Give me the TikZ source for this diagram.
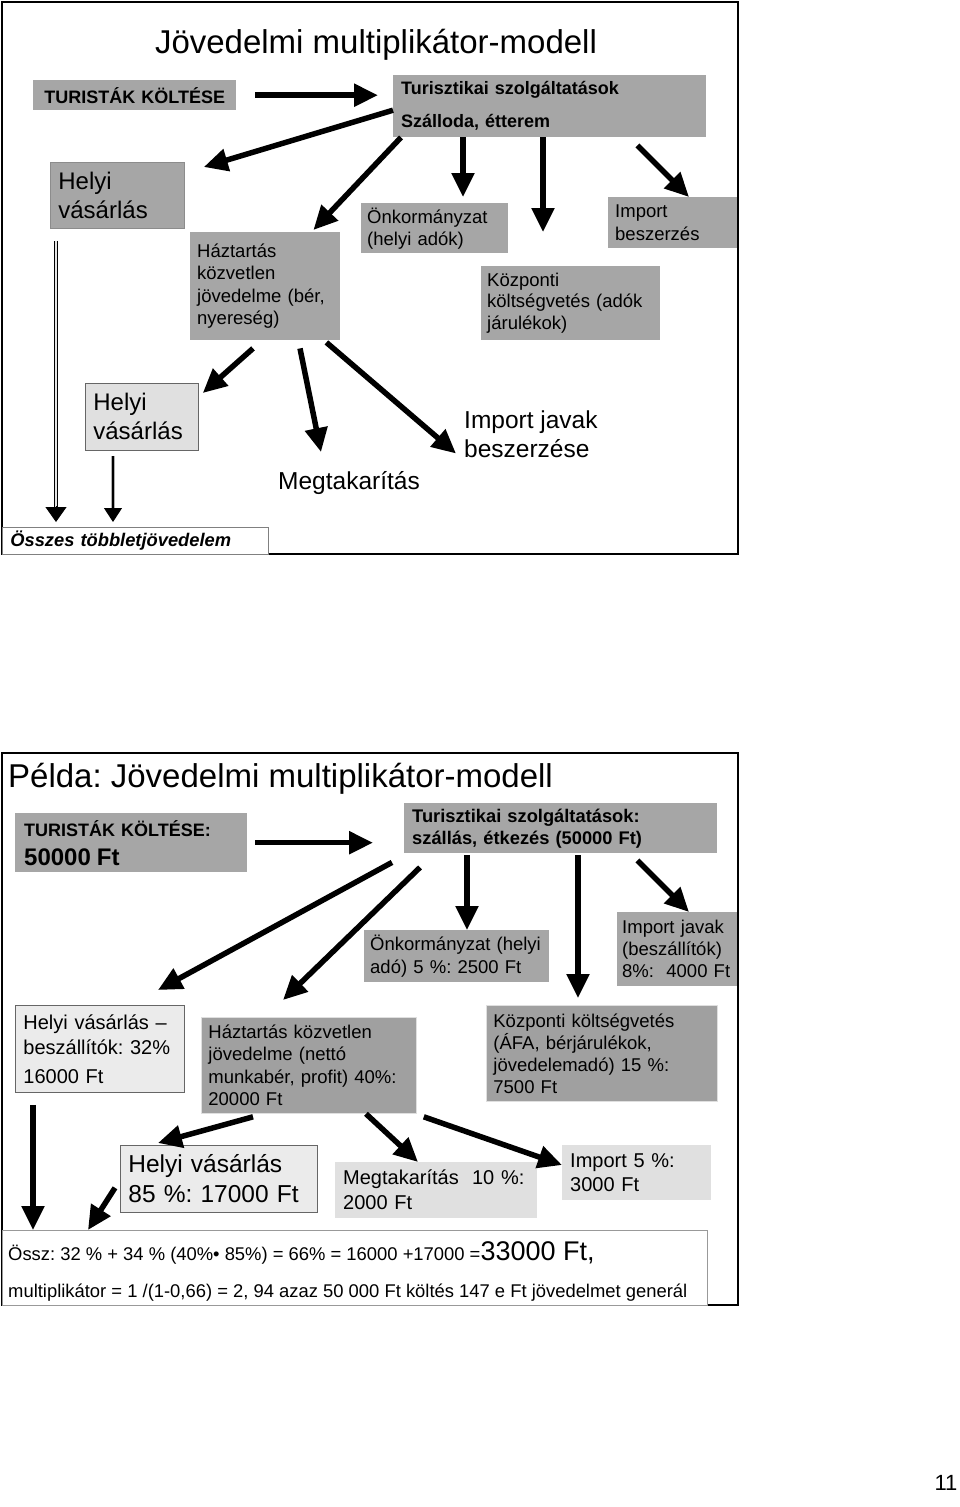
\documentclass[tikz,border=0pt]{standalone}
\usepackage{fontspec}
\setmainfont{Liberation Sans}
\usetikzlibrary{arrows.meta}
\definecolor{boxgray}{HTML}{A6A6A6}
\definecolor{boxdark}{HTML}{A0A0A0}
\definecolor{boxlight}{HTML}{E0E0E0}
\definecolor{boxpale}{HTML}{EBEBEB}
\newcommand{\fsz}[2]{\fontsize{#1}{#2}\selectfont}
\tikzset{
  bx/.style={rectangle, anchor=north west, align=left, inner xsep=7pt, inner ysep=0pt, font={\fsz{18.5}{22}}},
  gbox/.style={bx, fill=boxgray},
  dbox/.style={bx, fill=boxdark, draw=white!75!gray, line width=.8pt},
  lbox/.style={bx, fill=boxlight},
  pbox/.style={bx, fill=boxpale, draw=black!60, line width=.8pt},
  frame/.style={draw=black, line width=2pt},
  arr/.style={line width=5.5pt, -{Triangle[length=24pt,width=22pt]}},
  dblline/.style={line width=1.4pt, draw=black, double=gray!20, double distance=2pt},
  dbllineb/.style={line width=1pt, draw=gray!60, double=black, double distance=2.2pt},
  tipa/.style={line width=1pt, -{Triangle[length=15pt,width=21pt]}},
  tipb/.style={line width=1pt, -{Triangle[length=14pt,width=18pt]}}
}
\begin{document}
\frenchspacing
\begin{tikzpicture}[x=1pt,y=-1pt]
\useasboundingbox (0,0) rectangle (960,1507);

\draw[frame] (2,2) rectangle (738,554);
\node[font={\fsz{33}{36}}] (title1) at (376,45) {Jövedelmi multiplikátor-modell};
\node[gbox, minimum width=203pt, minimum height=30pt, text width=189pt, align=center, font={\bfseries\fsz{18}{22}}] (tk1) at (33,80) {TURISTÁK KÖLTÉSE};
\node[gbox, minimum width=313pt, minimum height=62pt, text width=297pt, inner xsep=8pt, font={\bfseries\fsz{18}{33}}] (tur1) at (393,75) {Turisztikai szolgáltatások\\Szálloda, étterem};
\node[gbox, draw=black!45, line width=.8pt, minimum width=134pt, minimum height=66pt, text width=118pt, inner xsep=8pt, font={\fsz{24}{29}}] (helyi1) at (50,162) {Helyi\\vásárlás};
\node[gbox, minimum width=150pt, minimum height=108pt, text width=136pt, font={\fsz{18.5}{22.3}}] (haz1) at (190,232) {Háztartás\\közvetlen\\jövedelme (bér,\\nyereség)};
\node[gbox, minimum width=147pt, minimum height=50pt, text width=135pt, inner xsep=6pt] (onk1) at (361,203) {Önkormányzat\\(helyi adók)};
\node[gbox, minimum width=179pt, minimum height=74pt, text width=167pt, inner xsep=6pt, font={\fsz{18.5}{21.5}}] (kozp1) at (481,266) {Központi\\költségvetés (adók\\járulékok)};
\node[gbox, minimum width=129pt, minimum height=51pt, text width=115pt, font={\fsz{18.5}{23}}] (imp1) at (608,197) {Import\\beszerzés};
\node[bx, fill=boxlight, draw=black!60, line width=.8pt, minimum width=113pt, minimum height=67pt, text width=97pt, inner xsep=8pt, font={\fsz{24}{29}}] (helyi2) at (85,383) {Helyi\\vásárlás};
\node[anchor=west, inner sep=0pt, font={\fsz{24.5}{29}}] (megt1) at (278,483) {Megtakarítás};
\node[anchor=west, inner sep=0pt, align=left, font={\fsz{24.5}{29}}] (impj1) at (464,434.5) {Import javak\\beszerzése};
\node[bx, fill=white, draw=black!50, line width=.8pt, minimum width=266pt, minimum height=27pt, text width=250pt, inner xsep=8pt, font={\bfseries\itshape\fsz{18.3}{22}}] (ossz) at (2,527) {Összes többletjövedelem};

\draw[arr, shorten <=19pt, shorten >=15pt] (tk1.east) -- (tk1.east -| tur1.west);
\draw[arr] ([yshift=-4pt]tur1.west) -- ([xshift=19pt,yshift=-5pt]helyi1.north east);
\draw[arr] ([xshift=8pt]tur1.south west) -- ([xshift=-27pt,yshift=2pt]haz1.north east);
\draw[arr] ([xshift=70pt]tur1.south west) -- ([xshift=102pt,yshift=6pt]onk1.north west);
\draw[arr] ([xshift=150pt]tur1.south west) -- ([xshift=62pt,yshift=34pt]kozp1.north west);
\draw[arr] ([xshift=-69pt,yshift=-8pt]tur1.south east) -- ([xshift=81pt]imp1.north west);
\draw[arr] ([xshift=63pt,yshift=-8pt]haz1.south west) -- ([xshift=4pt,yshift=-10pt]helyi2.north east);
\draw[arr] ([xshift=110pt,yshift=-8pt]haz1.south west) -- ([xshift=43pt,yshift=31pt]megt1.west);
\draw[arr] ([xshift=-14pt,yshift=-2pt]haz1.south east) -- ([xshift=-8pt,yshift=-19pt]impj1.west);
\draw[dblline] ([xshift=6pt,yshift=-12pt]helyi1.south west) -- ([xshift=54pt,yshift=18pt]ossz.north west);
\draw[tipa] ([xshift=54pt,yshift=21pt]ossz.north west) -- ([xshift=54pt,yshift=5pt]ossz.north west);
\draw[dbllineb] ([xshift=28pt,yshift=-5pt]helyi2.south west) -- ([xshift=111pt,yshift=17pt]ossz.north west);
\draw[tipb] ([xshift=111pt,yshift=20pt]ossz.north west) -- ([xshift=111pt,yshift=5pt]ossz.north west);

\draw[frame] (2,753) rectangle (738,1305);
\node[anchor=west, inner sep=0pt, font={\fsz{33}{36}}] (title2) at (8,779) {Példa: Jövedelmi multiplikátor-modell};
\node[gbox, minimum width=232pt, minimum height=59pt, text width=214pt, inner xsep=9pt, font={\bfseries\fsz{18}{29}}] (tk2) at (15,813) {TURISTÁK KÖLTÉSE:\\{\fsz{24}{29}50000 Ft}};
\node[gbox, minimum width=313pt, minimum height=50pt, text width=297pt, inner xsep=8pt, font={\bfseries\fsz{18.3}{22}}] (tur2) at (404,803) {Turisztikai szolgáltatások:\\szállás, étkezés (50000 Ft)};
\node[gbox, minimum width=185pt, minimum height=52pt, text width=173pt, inner xsep=6pt, font={\fsz{18.5}{23}}] (onk2) at (364,930) {Önkormányzat (helyi\\adó) 5 \%: 2500 Ft};
\node[gbox, minimum width=120pt, minimum height=74pt, text width=110pt, inner xsep=5pt] (impj2) at (617,912) {Import javak\\(beszállítók)\\8\%:\ \ 4000 Ft};
\node[pbox, minimum width=169pt, minimum height=87pt, text width=153pt, inner xsep=8pt, font={\fsz{20}{25}}] (helyi3) at (15,1005) {Helyi vásárlás –\\beszállítók: 32\%\\[4pt]16000 Ft};
\node[dbox, minimum width=215pt, minimum height=96pt, text width=201pt, font={\fsz{18.5}{22.3}}] (haz2) at (201,1017) {Háztartás közvetlen\\jövedelme (nettó\\munkabér, profit) 40\%:\\20000 Ft};
\node[dbox, minimum width=231pt, minimum height=96pt, text width=217pt] (kozp2) at (486,1005) {Központi költségvetés\\(ÁFA, bérjárulékok,\\jövedelemadó) 15 \%:\\7500 Ft};
\node[pbox, minimum width=197pt, minimum height=67pt, text width=181pt, inner xsep=8pt, font={\fsz{24.5}{30}}] (helyi4) at (120,1145) {Helyi vásárlás\\85 \%: 17000 Ft};
\node[lbox, minimum width=202pt, minimum height=56pt, text width=186pt, inner xsep=8pt, font={\fsz{20}{25}}] (megt2) at (335,1162) {Megtakarítás\ \ 10 \%:\\2000 Ft};
\node[lbox, minimum width=149pt, minimum height=55pt, text width=133pt, inner xsep=8pt, font={\fsz{20}{24}}] (imp2) at (562,1145) {Import 5 \%:\\3000 Ft};
\node[bx, fill=white, draw=black!40, line width=.8pt, minimum width=705pt, minimum height=75pt] (sumbox) at (2,1230) {};
\node[anchor=base west, inner sep=0pt, font={\fsz{18.4}{22}}] (sum1) at (8,1260) {Össz: 32 \% + 34 \% (40\%• 85\%) = 66\% = 16000 +17000 =\fsz{27}{30}33000 Ft,};
\node[anchor=base west, inner sep=0pt, font={\fsz{18.4}{22}}] (sum2) at (8,1297) {multiplikátor = 1 /(1-0,66) = 2, 94 azaz 50 000 Ft költés 147 e Ft jövedelmet generál};

\draw[arr, shorten <=8pt, shorten >=31pt] (tk2.east) -- (tk2.east -| tur2.west);
\draw[arr] ([xshift=-12pt,yshift=-9pt]tur2.south west) -- ([xshift=143pt,yshift=15pt]helyi3.north west);
\draw[arr] ([xshift=16pt,yshift=-14pt]tur2.south west) -- ([xshift=82pt,yshift=17pt]haz2.north west);
\draw[arr] ([xshift=63pt,yshift=-2pt]tur2.south west) -- ([xshift=103pt]onk2.north west);
\draw[arr] ([xshift=174pt,yshift=-2pt]tur2.south west) -- ([xshift=92pt,yshift=7pt]kozp2.north west);
\draw[arr] ([xshift=-80pt,yshift=-7pt]tur2.south east) -- ([xshift=72pt]impj2.north west);
\draw[arr] ([xshift=52pt,yshift=-3pt]haz2.south west) -- ([xshift=38pt,yshift=2pt]helyi4.north west);
\draw[arr] ([xshift=165pt]haz2.south west) -- ([xshift=83pt]megt2.north west);
\draw[arr] ([xshift=7pt,yshift=-3pt]haz2.south east) -- ([yshift=-20pt]imp2.north west);
\draw[arr] ([xshift=18pt,yshift=-12pt]helyi3.south west) -- ([xshift=31pt]sumbox.north west);
\draw[arr] ([xshift=-5pt,yshift=25pt]helyi4.south west) -- ([xshift=86pt]sumbox.north west);

\node[font={\fsz{22}{24}}] (page) at (946,1483) {11};
\end{tikzpicture}
\end{document}
